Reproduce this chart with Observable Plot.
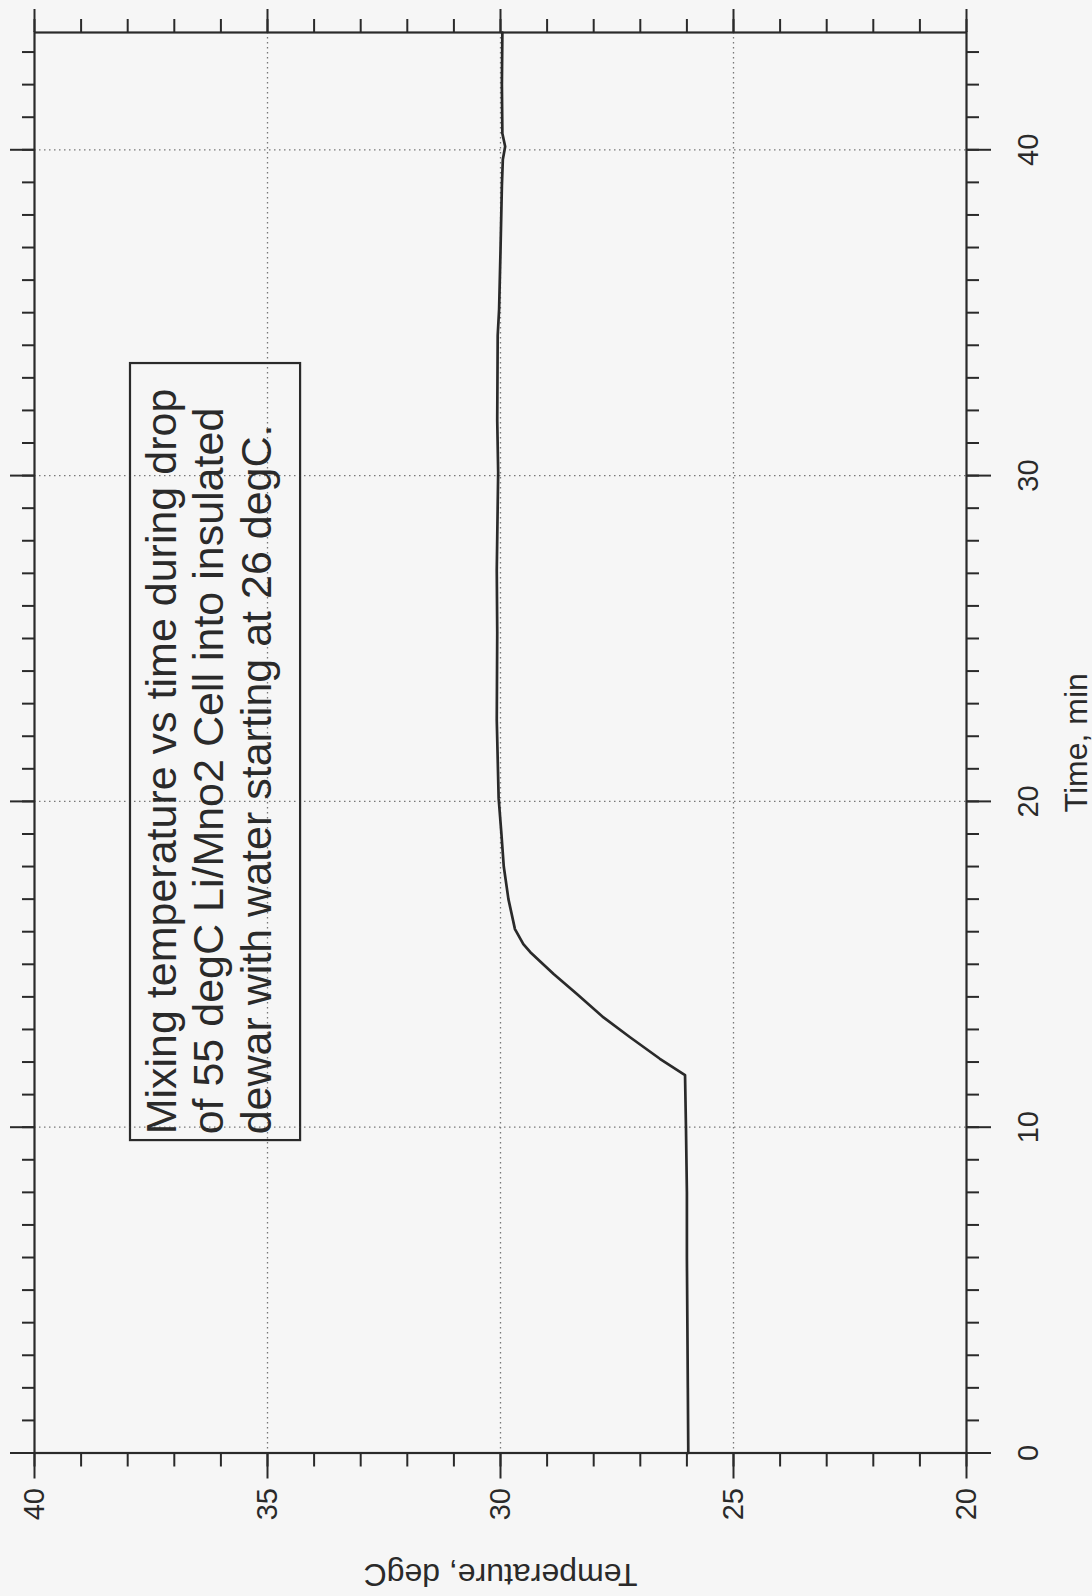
<!DOCTYPE html>
<html>
<head>
<meta charset="utf-8">
<script src="https://cdn.jsdelivr.net/npm/d3@7"></script>
<script src="https://cdn.jsdelivr.net/npm/@observablehq/plot@0.6"></script>
<style>
  html, body { margin: 0; padding: 0; background: #f6f6f6; }
  #page { position: relative; width: 1092px; height: 1596px; overflow: hidden; background: #f6f6f6; }
  #page svg { position: absolute; left: 0; top: 0; width: 1596px !important; height: 1092px !important; max-width: none !important; transform-origin: 0 0; transform: translate(0px, 1596px) rotate(-90deg); }
</style>
</head>
<body>
<div id="page"></div>
<script>
// Data read from the (rotated) scan: time in minutes, temperature in degC
const timeMin = [0, 2, 4, 6, 8, 10, 11.6, 12.1, 12.76, 13.37, 14.09, 14.7, 15.37, 15.62, 16.08, 17.0, 18.0, 19.0, 20.1, 22.5, 25.2, 27.1, 30.1, 31.7, 34.3, 35.1, 36.9, 38.9, 39.7, 40.1, 40.5, 42.0, 43.6];
const tempC   = [25.97, 25.98, 25.99, 26.0, 26.0, 26.02, 26.04, 26.58, 27.22, 27.79, 28.36, 28.86, 29.36, 29.51, 29.69, 29.83, 29.93, 29.98, 30.04, 30.08, 30.07, 30.08, 30.05, 30.07, 30.06, 30.03, 30.0, 29.97, 29.95, 29.9, 29.96, 29.97, 29.96];

const timeMajorTicks = [0, 10, 20, 30, 40];
const timeMinorTicks = d3.range(0, 44, 1);
const tempMajorTicks = [20, 25, 30, 35, 40];
const tempMinorTicks = d3.range(20, 41, 1);
const timeGrid = [10, 20, 30, 40];
const tempGrid = [25, 30, 35];

const xLabel = "Time, min";
const yLabel = "Temperature, degC";
const noteLines = [
  "Mixing temperature vs time during drop",
  "of 55 degC Li/Mno2 Cell into insulated",
  "dewar with water starting at 26 degC."
];

const data = timeMin.map((t, i) => ({t, T: tempC[i]}));
const noteBox = [{x1: 9.62, x2: 33.47, y1: 34.29, y2: 37.94}];
const noteAnchor = [{x: 9.78, y: 34.93, text: noteLines.join("\n")}];

const ink = "#2a2a2a";
const FONT = "'Liberation Sans', Arial, Helvetica, sans-serif";

const chart = Plot.plot({
  width: 1596,
  height: 1092,
  marginLeft: 142.5,
  marginRight: 33,
  marginTop: 34,
  marginBottom: 126,
  style: {background: "transparent", color: ink, fontFamily: FONT, fontSize: "29px", maxWidth: "none"},
  x: {domain: [0, 43.6]},
  y: {domain: [20, 40]},
  marks: [
    Plot.gridX(timeGrid, {stroke: "#777", strokeOpacity: 1, strokeWidth: 1.3, strokeDasharray: "1.5,3.5"}),
    Plot.gridY(tempGrid, {stroke: "#777", strokeOpacity: 1, strokeWidth: 1.3, strokeDasharray: "1.5,3.5"}),
    // bottom (time) axis
    Plot.axisX({anchor: "bottom", ticks: timeMinorTicks, tickSize: 13, strokeWidth: 2, fill: "none", label: null}),
    Plot.axisX({anchor: "bottom", ticks: timeMajorTicks, tickSize: 25, tickPadding: 26, strokeWidth: 2, label: null, fontSize: 29}),
    // top mirrored time ticks
    Plot.axisX({anchor: "top", ticks: timeMinorTicks, tickSize: 13, strokeWidth: 2, fill: "none", label: null}),
    Plot.axisX({anchor: "top", ticks: timeMajorTicks, tickSize: 25, strokeWidth: 2, fill: "none", label: null}),
    // left (temperature) axis
    Plot.axisY({anchor: "left", ticks: tempMinorTicks, tickSize: 13, strokeWidth: 2, fill: "none", label: null}),
    Plot.axisY({anchor: "left", ticks: tempMajorTicks, tickSize: 25, tickPadding: 10, strokeWidth: 2, label: null, fontSize: 29}),
    // right mirrored temperature ticks
    Plot.axisY({anchor: "right", ticks: tempMinorTicks, tickSize: 13, strokeWidth: 2, fill: "none", label: null}),
    Plot.axisY({anchor: "right", ticks: tempMajorTicks, tickSize: 23, strokeWidth: 2, fill: "none", label: null}),
    Plot.frame({stroke: ink, strokeWidth: 2.2}),
    Plot.line(data, {x: "t", y: "T", stroke: ink, strokeWidth: 2.7}),
    Plot.rect(noteBox, {x1: "x1", x2: "x2", y1: "y1", y2: "y2", fill: "none", stroke: ink, strokeWidth: 2.2}),
    Plot.text(noteAnchor, {x: "x", y: "y", text: "text", textAnchor: "start", lineAnchor: "bottom", lineHeight: 1.1, fontSize: 43, fill: ink}),
    Plot.text([xLabel], {frameAnchor: "bottom", dy: 120, textAnchor: "middle", lineAnchor: "bottom", fontSize: 32, fill: ink}),
    Plot.text([yLabel], {frameAnchor: "left", dx: -121.5, rotate: -90, textAnchor: "middle", lineAnchor: "middle", fontSize: 32, fill: ink})
  ]
});

document.getElementById("page").appendChild(chart);
</script>
</body>
</html>
